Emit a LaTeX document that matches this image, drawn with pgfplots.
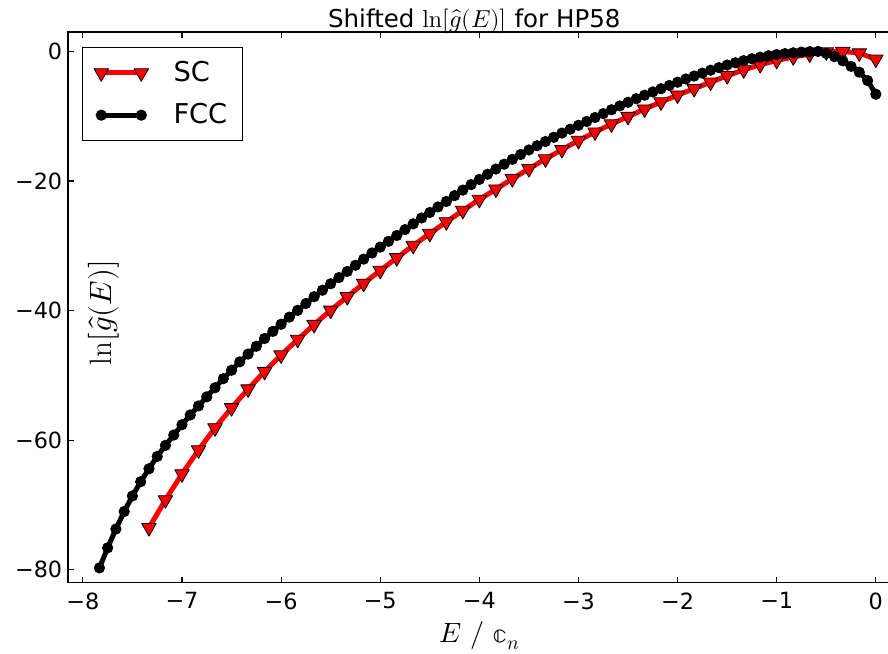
\documentclass[border=0pt]{standalone}
\usepackage{pgfplots}
\pgfplotsset{compat=1.18}
\usepackage{unicode-math}
\setmathfont{Latin Modern Math}
\newfontfamily\dejavu{DejaVu Sans}

\begin{document}
\begin{tikzpicture}
\begin{axis}[
  at={(0,0)}, anchor=south west,
  scale only axis,
  width=416.3bp, height=275.4bp,
  xmin=-8.15, xmax=0.25, ymin=-82, ymax=3,
  xtick={-8,-7,-6,-5,-4,-3,-2,-1,0},
  xticklabels={−8,−7,−6,−5,−4,−3,−2,−1,0},
  ytick={-80,-60,-40,-20,0},
  yticklabels={−80,−60,−40,−20,0},
  minor tick num=0,
  tick align=inside,
  major tick length=3bp,
  tick style={black, line width=0.6bp},
  axis line style={line width=0.6bp},
  ticklabel style={font=\dejavu\fontsize{11.2}{13}\selectfont},
  xticklabel style={yshift=-1.4bp},
  yticklabel style={xshift=0.6bp},
  title={\dejavu Shifted $\ln[\hat{g}(E)]$ for HP58},
  title style={font=\fontsize{12.3}{14}\selectfont, at={(axis description cs:0.488,1)}, anchor=south, inner sep=0pt, yshift=-7bp},
  xlabel={$E\ /\ \mathbb{c}_n$},
  xlabel style={font=\fontsize{14}{17}\selectfont, at={(axis description cs:0.4946,0)}, anchor=base, yshift=-30bp},
  ylabel={$\ln[\hat{g}(E)]$},
  ylabel style={font=\fontsize{15.5}{18}\selectfont, at={(axis description cs:0.0426,0.4906)}, anchor=center},
  legend cell align=left,
  legend style={at={(axis description cs:0,1)}, anchor=north west, xshift=6.85bp, yshift=-7.35bp,
    draw=black, line width=0.6bp, inner xsep=5.5bp, inner ysep=5bp,
    nodes={inner sep=2bp}, font=\dejavu\fontsize{13.7}{16}\selectfont,
    column sep=10.1bp, row sep=5.5bp},
  legend image code/.code={
    \draw[#1] plot coordinates {(0bp,0bp) (20bp,0bp)};
    \path[draw=none, fill=none] (-4bp,-3.5bp) rectangle (24bp,3.5bp);
  },
]
\addplot[red, line width=2.5bp, line join=round, mark=triangle*, mark size=4.2bp,
  mark options={fill=red, draw=black, line width=0.4bp, rotate=180}] coordinates {
(-7.333,-73.5) (-7.167,-69.2) (-7.0,-65.2) (-6.833,-61.5) (-6.667,-58.1)
(-6.5,-55.0) (-6.333,-52.1) (-6.167,-49.4) (-6.0,-46.85) (-5.833,-44.45)
(-5.667,-42.15) (-5.5,-39.95) (-5.333,-37.85) (-5.167,-35.8) (-5.0,-33.8)
(-4.833,-31.85) (-4.667,-29.95) (-4.5,-28.1) (-4.333,-26.3) (-4.167,-24.55)
(-4.0,-22.85) (-3.833,-21.25) (-3.667,-19.65) (-3.5,-18.1) (-3.333,-16.6)
(-3.167,-15.15) (-3.0,-13.75) (-2.833,-12.45) (-2.667,-11.2) (-2.5,-10.05)
(-2.333,-8.9) (-2.167,-7.8) (-2.0,-6.75) (-1.833,-5.75) (-1.667,-4.75)
(-1.5,-3.75) (-1.333,-2.85) (-1.167,-2.05) (-1.0,-1.4) (-0.833,-0.85)
(-0.667,-0.42) (-0.5,-0.08) (-0.333,0.0) (-0.167,-0.25) (0.0,-1.2)
};
\addlegendentry{SC}
\addplot[black, line width=2.5bp, line join=round, mark=*, mark size=2.6bp,
  mark options={fill=black, draw=black, line width=0.4bp}] coordinates {
(-7.833,-79.7) (-7.75,-76.6) (-7.667,-73.7) (-7.583,-71.0) (-7.5,-68.6)
(-7.417,-66.4) (-7.333,-64.4) (-7.25,-62.5) (-7.167,-60.8) (-7.083,-59.2)
(-7.0,-57.6) (-6.917,-56.1) (-6.833,-54.7) (-6.75,-53.3) (-6.667,-51.9)
(-6.583,-50.5) (-6.5,-49.2) (-6.417,-47.9) (-6.333,-46.7) (-6.25,-45.5)
(-6.167,-44.3) (-6.083,-43.2) (-6.0,-42.1) (-5.917,-41.0) (-5.833,-39.95)
(-5.75,-38.9) (-5.667,-37.85) (-5.583,-36.85) (-5.5,-35.85) (-5.417,-34.9)
(-5.333,-33.95) (-5.25,-33.0) (-5.167,-32.05) (-5.083,-31.1) (-5.0,-30.2)
(-4.917,-29.3) (-4.833,-28.4) (-4.75,-27.5) (-4.667,-26.6) (-4.583,-25.7)
(-4.5,-24.85) (-4.417,-24.0) (-4.333,-23.15) (-4.25,-22.25) (-4.167,-21.4)
(-4.083,-20.55) (-4.0,-19.75) (-3.917,-18.95) (-3.833,-18.15) (-3.75,-17.4)
(-3.667,-16.65) (-3.583,-15.9) (-3.5,-15.2) (-3.417,-14.55) (-3.333,-13.9)
(-3.25,-13.25) (-3.167,-12.6) (-3.083,-12.0) (-3.0,-11.4) (-2.917,-10.8)
(-2.833,-10.2) (-2.75,-9.6) (-2.667,-9.0) (-2.583,-8.4) (-2.5,-7.85)
(-2.417,-7.3) (-2.333,-6.75) (-2.25,-6.25) (-2.167,-5.75) (-2.083,-5.25)
(-2.0,-4.75) (-1.917,-4.25) (-1.833,-3.8) (-1.75,-3.35) (-1.667,-2.9)
(-1.583,-2.5) (-1.5,-2.1) (-1.417,-1.75) (-1.333,-1.42) (-1.25,-1.13)
(-1.167,-0.88) (-1.083,-0.66) (-1.0,-0.48) (-0.917,-0.34) (-0.833,-0.21)
(-0.75,-0.1) (-0.667,-0.03) (-0.583,0.0) (-0.5,-0.3) (-0.417,-0.8)
(-0.333,-1.45) (-0.25,-2.3) (-0.167,-3.2) (-0.083,-4.5) (0.0,-6.6)
};
\addlegendentry{FCC}
\end{axis}
\pgfresetboundingbox
\path[use as bounding box] (-34bp,-35.15bp) rectangle (410bp,291.4bp);
\end{tikzpicture}
\end{document}
